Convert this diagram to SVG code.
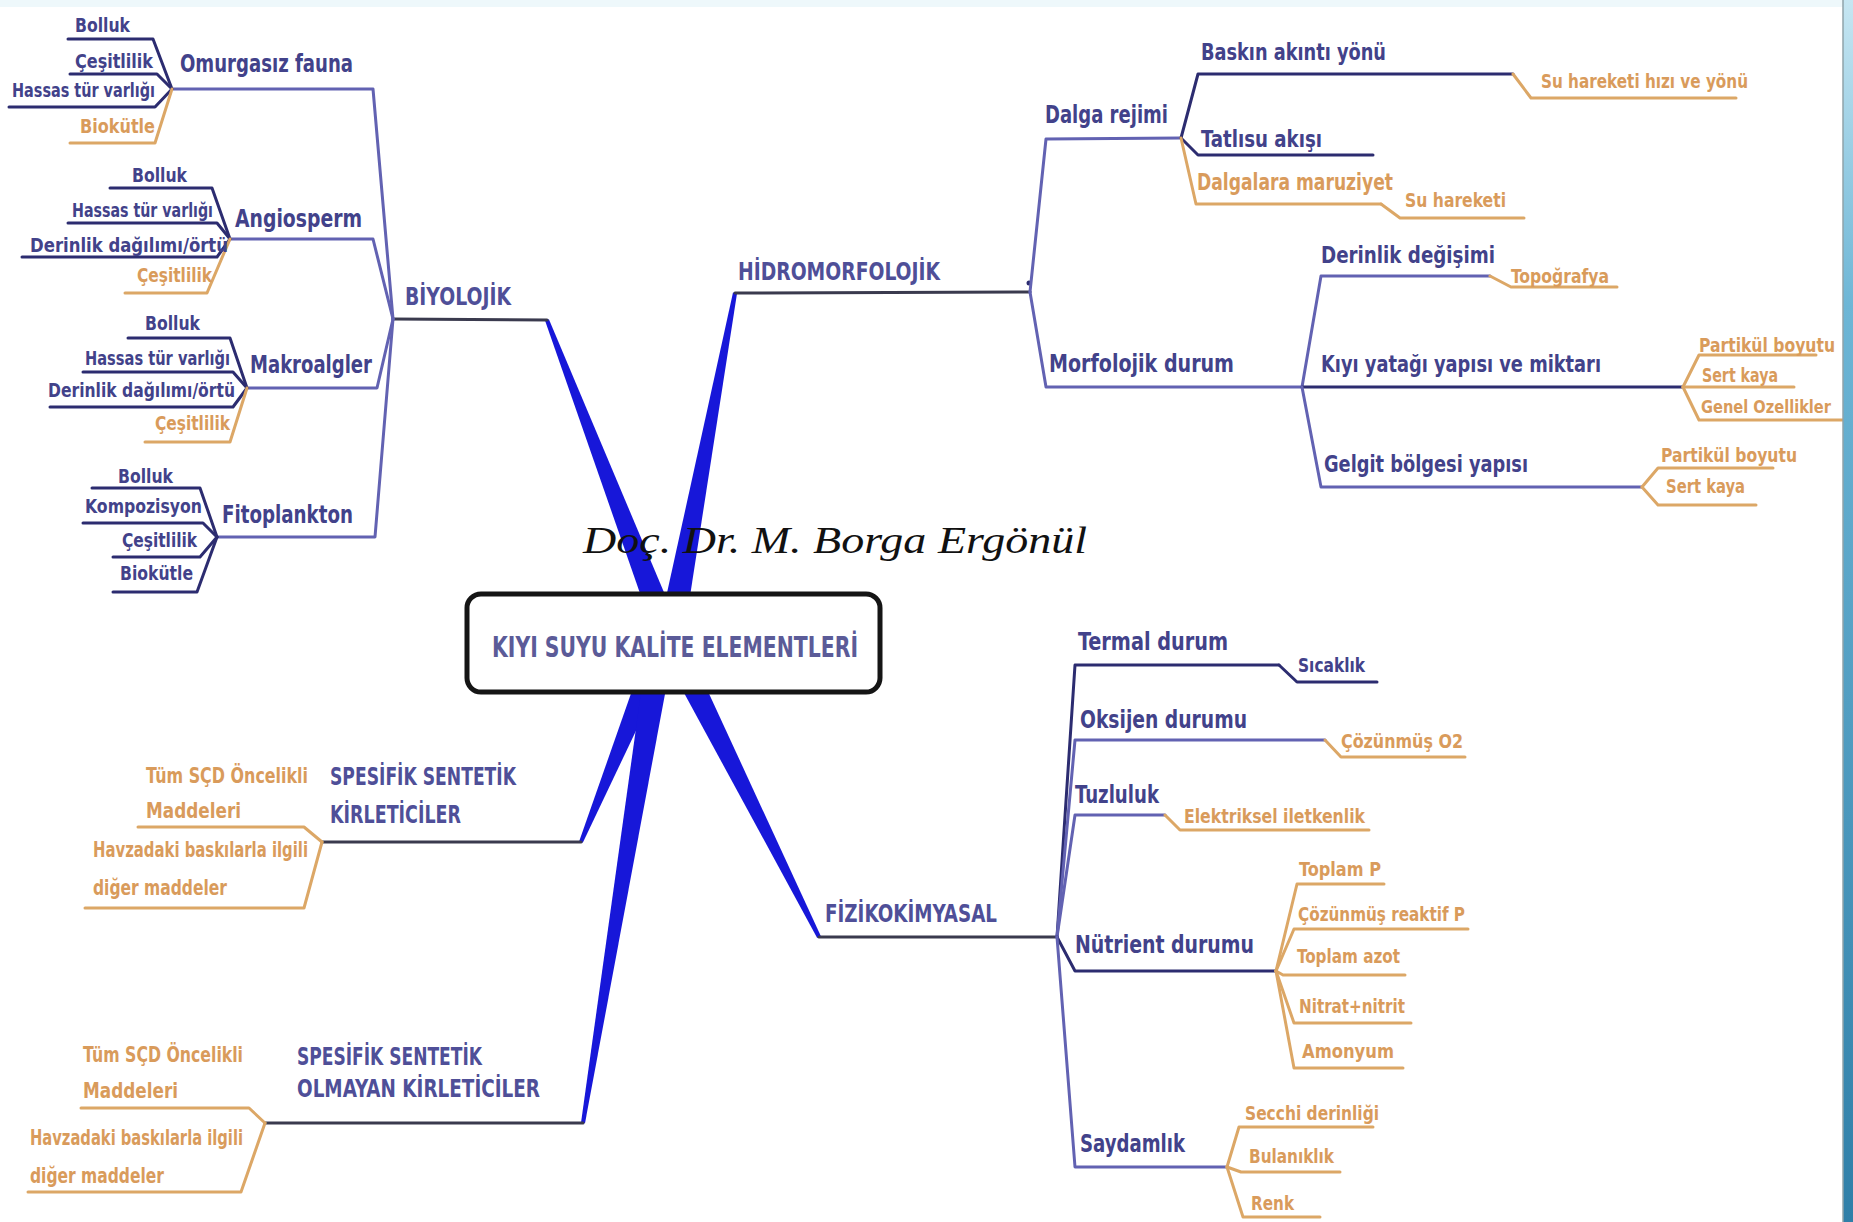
<svg xmlns="http://www.w3.org/2000/svg" width="1853" height="1222" viewBox="0 0 1853 1222">
<defs>
<linearGradient id="edge" x1="0" y1="0" x2="0" y2="1">
<stop offset="0" stop-color="#c6e6f2"/>
<stop offset="0.25" stop-color="#6db6d6"/>
<stop offset="1" stop-color="#2f7fa8"/>
</linearGradient>
<style>
text{font-family:"Liberation Sans Narrow","DejaVu Sans Condensed","Open Sans","Liberation Sans",sans-serif;font-weight:700;}
.cat{fill:#4f4f98;font-size:25px;}
.l2{fill:#42428a;font-size:25px;}
.l3{fill:#42428a;font-size:23px;}
.sm{fill:#42428a;font-size:20px;}
.or{fill:#d99b5b;font-size:20px;}
.or3{fill:#d99b5b;font-size:23px;}
.ors{fill:#d99b5b;font-size:21px;}
.ln{fill:none;stroke-width:3;stroke-linejoin:round;stroke-linecap:round;}
.dk{stroke:#3a3a4e;}
.pu{stroke:#6262b2;}
.nv{stroke:#2c2c70;}
.og{stroke:#dca766;}
.br{fill:#1717d9;}
.wm{font-family:"Liberation Serif","DejaVu Serif",serif;font-style:italic;font-weight:400;font-size:38px;fill:#111;}
.ctr{fill:#5b5b98;font-size:28px;}
</style>
</defs>
<rect x="0" y="0" width="1853" height="1222" fill="#ffffff"/>
<rect x="0" y="0" width="1843" height="7" fill="#eef8fb"/>

<g id="connectors">
<polygon class="br" points="682.1,635.3 548.9,319.3 545.1,320.7 657.9,644.7"/>
<polygon class="br" points="682.8,642.4 737.0,293.4 733.0,292.6 657.2,637.6"/>
<polygon class="br" points="658.4,645.8 817.2,937.9 820.8,936.1 681.6,634.2"/>
<polygon class="br" points="648.0,645.1 579.2,841.2 582.8,842.8 672.0,654.9"/>
<polygon class="br" points="647.2,647.9 581.0,1122.7 585.0,1123.3 672.8,652.1"/>

<polyline class="ln dk" points="547,320 393,319"/>
<polyline class="ln pu" points="393,319 373,89 172,89"/>
<polyline class="ln nv" points="172,89 153,39 68,39"/>
<polyline class="ln nv" points="172,89 157,74 70,74"/>
<polyline class="ln nv" points="172,89 155,107 9,107"/>
<polyline class="ln og" points="172,89 155,143 70,143"/>
<polyline class="ln pu" points="393,319 373,239 230,239"/>
<polyline class="ln nv" points="230,239 212,188 110,188"/>
<polyline class="ln nv" points="230,239 217,223 68,223"/>
<polyline class="ln nv" points="230,239 217,257 22,257"/>
<polyline class="ln og" points="230,239 207,293 125,293"/>
<polyline class="ln pu" points="393,319 377,388 247,388"/>
<polyline class="ln nv" points="247,388 230,338 128,338"/>
<polyline class="ln nv" points="247,388 233,372 83,372"/>
<polyline class="ln nv" points="247,388 233,407 50,407"/>
<polyline class="ln og" points="247,388 230,442 145,442"/>
<polyline class="ln pu" points="393,319 375,537 217,537"/>
<polyline class="ln nv" points="217,537 200,488 92,488"/>
<polyline class="ln nv" points="217,537 203,523 83,523"/>
<polyline class="ln nv" points="217,537 200,557 113,557"/>
<polyline class="ln nv" points="217,537 197,592 113,592"/>

<polyline class="ln dk" points="735,293 1030,292"/>
<circle cx="1029" cy="283" r="2.5" fill="#2c2c70"/>
<polyline class="ln pu" points="1030,292 1046,139 1181,138"/>
<polyline class="ln nv" points="1181,138 1198,74 1513,74"/>
<polyline class="ln og" points="1513,74 1531,98 1736,98"/>
<polyline class="ln nv" points="1181,138 1198,155 1373,155"/>
<polyline class="ln og" points="1181,138 1196,204 1381,204"/>
<polyline class="ln og" points="1381,204 1400,218 1524,218"/>
<polyline class="ln pu" points="1030,292 1046,387 1302,387"/>
<polyline class="ln pu" points="1302,387 1321,276 1490,276"/>
<polyline class="ln og" points="1490,276 1511,287 1617,287"/>
<polyline class="ln nv" points="1302,387 1683,387"/>
<polyline class="ln og" points="1683,387 1699,355 1816,355"/>
<polyline class="ln og" points="1683,387 1794,387"/>
<polyline class="ln og" points="1683,387 1699,420 1843,420"/>
<polyline class="ln pu" points="1302,387 1321,487 1642,487"/>
<polyline class="ln og" points="1642,487 1658,468 1773,468"/>
<polyline class="ln og" points="1642,487 1658,505 1756,505"/>

<polyline class="ln dk" points="819,937 1057,937"/>
<polyline class="ln nv" points="1057,937 1075,665 1279,665"/>
<polyline class="ln nv" points="1279,665 1297,682 1377,682"/>
<polyline class="ln pu" points="1057,937 1075,740 1325,740"/>
<polyline class="ln og" points="1325,740 1341,757 1465,757"/>
<polyline class="ln pu" points="1057,937 1075,815 1165,815"/>
<polyline class="ln og" points="1165,815 1180,830 1369,830"/>
<polyline class="ln nv" points="1057,937 1075,971 1276,971"/>
<polyline class="ln og" points="1276,971 1297,884 1384,884"/>
<polyline class="ln og" points="1276,971 1294,929 1468,929"/>
<polyline class="ln og" points="1276,971 1283,975 1405,975"/>
<polyline class="ln og" points="1276,971 1294,1023 1411,1023"/>
<polyline class="ln og" points="1276,971 1294,1068 1403,1068"/>
<polyline class="ln pu" points="1057,937 1075,1167 1227,1167"/>
<polyline class="ln og" points="1227,1167 1239,1127 1373,1127"/>
<polyline class="ln og" points="1227,1167 1241,1172 1340,1172"/>
<polyline class="ln og" points="1227,1167 1243,1217 1320,1217"/>

<polyline class="ln dk" points="581,842 322,842"/>
<polyline class="ln og" points="322,842 304,827 138,827"/>
<polyline class="ln og" points="322,842 304,908 85,908"/>
<polyline class="ln dk" points="583,1123 265,1123"/>
<polyline class="ln og" points="265,1123 249,1108 81,1108"/>
<polyline class="ln og" points="265,1123 241,1192 28,1192"/>
</g>

<g id="center">
<rect x="467" y="594" width="413" height="98" rx="14" ry="14" fill="#ffffff" stroke="#151515" stroke-width="5"/>
<text class="ctr" x="492" y="657" textLength="366" lengthAdjust="spacingAndGlyphs">KIYI SUYU KALİTE ELEMENTLERİ</text>
</g>

<g id="watermark">
<text class="wm" x="583" y="553" textLength="504" lengthAdjust="spacingAndGlyphs">Doç. Dr. M. Borga Ergönül</text>
</g>

<g id="biyolojik"><text class="cat" x="405" y="305" textLength="106" lengthAdjust="spacingAndGlyphs">BİYOLOJİK</text></g>
<g id="omurgasiz"><text class="l2" x="180" y="72" textLength="173" lengthAdjust="spacingAndGlyphs">Omurgasız fauna</text></g>
<g id="om-bolluk"><text class="sm" x="75" y="32" textLength="55" lengthAdjust="spacingAndGlyphs">Bolluk</text></g>
<g id="om-cesit"><text class="sm" x="75" y="68" textLength="78" lengthAdjust="spacingAndGlyphs">Çeşitlilik</text></g>
<g id="om-hassas"><text class="sm" x="12" y="97" textLength="143" lengthAdjust="spacingAndGlyphs">Hassas tür varlığı</text></g>
<g id="om-bio"><text class="or" x="80" y="133" textLength="75" lengthAdjust="spacingAndGlyphs">Biokütle</text></g>
<g id="angiosperm"><text class="l2" x="235" y="227" textLength="127" lengthAdjust="spacingAndGlyphs">Angiosperm</text></g>
<g id="an-bolluk"><text class="sm" x="132" y="182" textLength="55" lengthAdjust="spacingAndGlyphs">Bolluk</text></g>
<g id="an-hassas"><text class="sm" x="72" y="217" textLength="141" lengthAdjust="spacingAndGlyphs">Hassas tür varlığı</text></g>
<g id="an-derin"><text class="sm" x="30" y="252" textLength="198" lengthAdjust="spacingAndGlyphs">Derinlik dağılımı/örtü</text></g>
<g id="an-cesit"><text class="or" x="137" y="282" textLength="75" lengthAdjust="spacingAndGlyphs">Çeşitlilik</text></g>
<g id="makroalgler"><text class="l2" x="250" y="373" textLength="122" lengthAdjust="spacingAndGlyphs">Makroalgler</text></g>
<g id="ma-bolluk"><text class="sm" x="145" y="330" textLength="55" lengthAdjust="spacingAndGlyphs">Bolluk</text></g>
<g id="ma-hassas"><text class="sm" x="85" y="365" textLength="145" lengthAdjust="spacingAndGlyphs">Hassas tür varlığı</text></g>
<g id="ma-derin"><text class="sm" x="48" y="397" textLength="187" lengthAdjust="spacingAndGlyphs">Derinlik dağılımı/örtü</text></g>
<g id="ma-cesit"><text class="or" x="155" y="430" textLength="75" lengthAdjust="spacingAndGlyphs">Çeşitlilik</text></g>
<g id="fitoplankton"><text class="l2" x="222" y="523" textLength="131" lengthAdjust="spacingAndGlyphs">Fitoplankton</text></g>
<g id="fi-bolluk"><text class="sm" x="118" y="483" textLength="55" lengthAdjust="spacingAndGlyphs">Bolluk</text></g>
<g id="fi-kompo"><text class="sm" x="85" y="513" textLength="117" lengthAdjust="spacingAndGlyphs">Kompozisyon</text></g>
<g id="fi-cesit"><text class="sm" x="122" y="547" textLength="75" lengthAdjust="spacingAndGlyphs">Çeşitlilik</text></g>
<g id="fi-bio"><text class="sm" x="120" y="580" textLength="73" lengthAdjust="spacingAndGlyphs">Biokütle</text></g>

<g id="hidromorfolojik"><text class="cat" x="738" y="280" textLength="202" lengthAdjust="spacingAndGlyphs">HİDROMORFOLOJİK</text></g>
<g id="dalga"><text class="l2" x="1045" y="123" textLength="123" lengthAdjust="spacingAndGlyphs">Dalga rejimi</text></g>
<g id="baskin"><text class="l3" x="1201" y="60" textLength="185" lengthAdjust="spacingAndGlyphs">Baskın akıntı yönü</text></g>
<g id="su-hizi"><text class="or" x="1541" y="88" textLength="207" lengthAdjust="spacingAndGlyphs">Su hareketi hızı ve yönü</text></g>
<g id="tatlisu"><text class="l3" x="1201" y="147" textLength="121" lengthAdjust="spacingAndGlyphs">Tatlısu akışı</text></g>
<g id="dalgalara"><text class="or3" x="1197" y="190" textLength="196" lengthAdjust="spacingAndGlyphs">Dalgalara maruziyet</text></g>
<g id="su-hareketi"><text class="or" x="1405" y="207" textLength="101" lengthAdjust="spacingAndGlyphs">Su hareketi</text></g>
<g id="morfolojik"><text class="l2" x="1049" y="372" textLength="185" lengthAdjust="spacingAndGlyphs">Morfolojik durum</text></g>
<g id="derinlik-deg"><text class="l3" x="1321" y="263" textLength="174" lengthAdjust="spacingAndGlyphs">Derinlik değişimi</text></g>
<g id="topografya"><text class="or" x="1511" y="283" textLength="98" lengthAdjust="spacingAndGlyphs">Topoğrafya</text></g>
<g id="kiyi-yatagi"><text class="l3" x="1321" y="372" textLength="280" lengthAdjust="spacingAndGlyphs">Kıyı yatağı yapısı ve miktarı</text></g>
<g id="ky-partikul"><text class="or" x="1699" y="352" textLength="136" lengthAdjust="spacingAndGlyphs">Partikül boyutu</text></g>
<g id="ky-sert"><text class="or" x="1702" y="382" textLength="76" lengthAdjust="spacingAndGlyphs">Sert kaya</text></g>
<g id="ky-genel"><text class="or" x="1701" y="413" style="font-size:17px" textLength="130" lengthAdjust="spacingAndGlyphs">Genel Ozellikler</text></g>
<g id="gelgit"><text class="l3" x="1324" y="472" textLength="204" lengthAdjust="spacingAndGlyphs">Gelgit bölgesi yapısı</text></g>
<g id="ge-partikul"><text class="or" x="1661" y="462" textLength="136" lengthAdjust="spacingAndGlyphs">Partikül boyutu</text></g>
<g id="ge-sert"><text class="or" x="1666" y="493" textLength="79" lengthAdjust="spacingAndGlyphs">Sert kaya</text></g>

<g id="fizikokimyasal"><text class="cat" x="825" y="922" textLength="172" lengthAdjust="spacingAndGlyphs">FİZİKOKİMYASAL</text></g>
<g id="termal"><text class="l2" x="1078" y="650" textLength="150" lengthAdjust="spacingAndGlyphs">Termal durum</text></g>
<g id="sicaklik"><text class="sm" x="1298" y="672" textLength="67" lengthAdjust="spacingAndGlyphs">Sıcaklık</text></g>
<g id="oksijen"><text class="l2" x="1080" y="728" textLength="167" lengthAdjust="spacingAndGlyphs">Oksijen durumu</text></g>
<g id="cozunmus-o2"><text class="or" x="1341" y="748" textLength="122" lengthAdjust="spacingAndGlyphs">Çözünmüş O2</text></g>
<g id="tuzluluk"><text class="l2" x="1075" y="803" textLength="84" lengthAdjust="spacingAndGlyphs">Tuzluluk</text></g>
<g id="elektriksel"><text class="or" x="1184" y="823" textLength="181" lengthAdjust="spacingAndGlyphs">Elektriksel iletkenlik</text></g>
<g id="nutrient"><text class="l2" x="1075" y="953" textLength="179" lengthAdjust="spacingAndGlyphs">Nütrient durumu</text></g>
<g id="toplam-p"><text class="or" x="1299" y="876" textLength="82" lengthAdjust="spacingAndGlyphs">Toplam P</text></g>
<g id="reaktif-p"><text class="or" x="1298" y="921" textLength="167" lengthAdjust="spacingAndGlyphs">Çözünmüş reaktif P</text></g>
<g id="toplam-azot"><text class="or" x="1297" y="963" textLength="103" lengthAdjust="spacingAndGlyphs">Toplam azot</text></g>
<g id="nitrat"><text class="or" x="1299" y="1013" textLength="106" lengthAdjust="spacingAndGlyphs">Nitrat+nitrit</text></g>
<g id="amonyum"><text class="or" x="1302" y="1058" textLength="92" lengthAdjust="spacingAndGlyphs">Amonyum</text></g>
<g id="saydamlik"><text class="l2" x="1080" y="1152" textLength="105" lengthAdjust="spacingAndGlyphs">Saydamlık</text></g>
<g id="secchi"><text class="or" x="1245" y="1120" textLength="134" lengthAdjust="spacingAndGlyphs">Secchi derinliği</text></g>
<g id="bulaniklik"><text class="or" x="1249" y="1163" textLength="85" lengthAdjust="spacingAndGlyphs">Bulanıklık</text></g>
<g id="renk"><text class="or" x="1251" y="1210" textLength="43" lengthAdjust="spacingAndGlyphs">Renk</text></g>

<g id="ssk">
<text class="cat" x="330" y="785" textLength="186" lengthAdjust="spacingAndGlyphs">SPESİFİK SENTETİK</text>
<text class="cat" x="330" y="823" textLength="131" lengthAdjust="spacingAndGlyphs">KİRLETİCİLER</text>
</g>
<g id="ssk-tum">
<text class="ors" x="146" y="783" textLength="162" lengthAdjust="spacingAndGlyphs">Tüm SÇD Öncelikli</text>
<text class="ors" x="146" y="818" textLength="95" lengthAdjust="spacingAndGlyphs">Maddeleri</text>
</g>
<g id="ssk-havza">
<text class="ors" x="93" y="857" textLength="215" lengthAdjust="spacingAndGlyphs">Havzadaki baskılarla ilgili</text>
<text class="ors" x="93" y="895" textLength="134" lengthAdjust="spacingAndGlyphs">diğer maddeler</text>
</g>
<g id="ssok">
<text class="cat" x="297" y="1065" textLength="185" lengthAdjust="spacingAndGlyphs">SPESİFİK SENTETİK</text>
<text class="cat" x="297" y="1097" textLength="243" lengthAdjust="spacingAndGlyphs">OLMAYAN KİRLETİCİLER</text>
</g>
<g id="ssok-tum">
<text class="ors" x="83" y="1062" textLength="160" lengthAdjust="spacingAndGlyphs">Tüm SÇD Öncelikli</text>
<text class="ors" x="83" y="1098" textLength="95" lengthAdjust="spacingAndGlyphs">Maddeleri</text>
</g>
<g id="ssok-havza">
<text class="ors" x="30" y="1145" textLength="213" lengthAdjust="spacingAndGlyphs">Havzadaki baskılarla ilgili</text>
<text class="ors" x="30" y="1183" textLength="134" lengthAdjust="spacingAndGlyphs">diğer maddeler</text>
</g>

<rect x="1843" y="0" width="10" height="1222" fill="url(#edge)"/>
<line x1="1843" y1="0" x2="1843" y2="1222" stroke="#8fa3aa" stroke-width="1.5"/>
</svg>
